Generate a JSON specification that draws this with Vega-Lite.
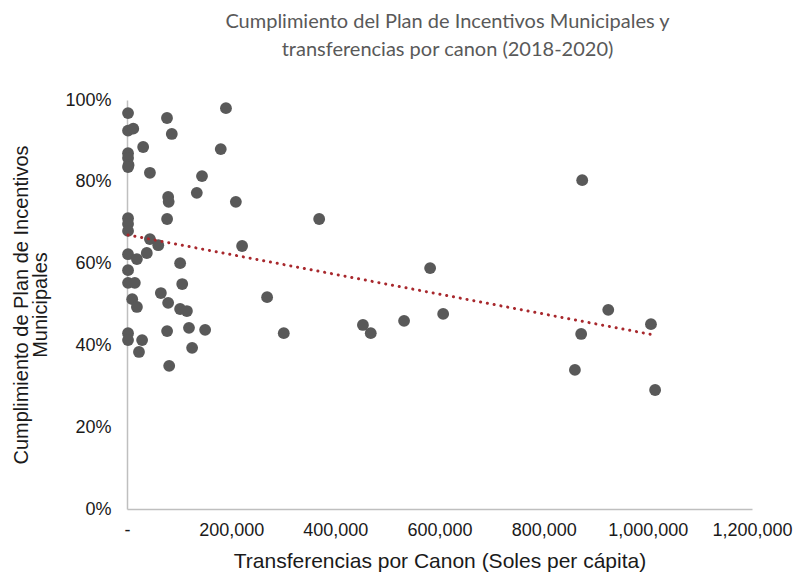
{
  "$schema": "https://vega.github.io/schema/vega-lite/v6.json",
  "width": 625,
  "height": 409,
  "autosize": "none",
  "padding": {"left": 127, "top": 100, "right": 45, "bottom": 72},
  "background": "white",
  "title": {
    "text": ["Cumplimiento del Plan de Incentivos Municipales y", "transferencias por canon (2018-2020)"],
    "font": "Lato",
    "fontSize": 20,
    "fontWeight": "normal",
    "color": "#595959",
    "lineHeight": 28,
    "anchor": "middle",
    "dx": 8,
    "offset": 31
  },
  "config": {
    "view": {"stroke": null},
    "axis": {
      "labelFont": "Liberation Sans",
      "titleFont": "Liberation Sans",
      "labelFontSize": 18,
      "titleFontSize": 20,
      "titleFontWeight": "normal",
      "labelColor": "#1a1a1a",
      "titleColor": "#1a1a1a",
      "grid": false,
      "ticks": false,
      "domainColor": "#bfbfbf",
      "domainWidth": 1.5
    }
  },
  "datasets": {
    "points": [
      {"canon": 2000, "pim": 0.968},
      {"canon": 2000, "pim": 0.925},
      {"canon": 12000, "pim": 0.93},
      {"canon": 2000, "pim": 0.870},
      {"canon": 2000, "pim": 0.858},
      {"canon": 3000, "pim": 0.841},
      {"canon": 2000, "pim": 0.836},
      {"canon": 2000, "pim": 0.711},
      {"canon": 2000, "pim": 0.697},
      {"canon": 2000, "pim": 0.680},
      {"canon": 2000, "pim": 0.623},
      {"canon": 2000, "pim": 0.584},
      {"canon": 2000, "pim": 0.553},
      {"canon": 2000, "pim": 0.430},
      {"canon": 2000, "pim": 0.413},
      {"canon": 76800, "pim": 0.956},
      {"canon": 190000, "pim": 0.98},
      {"canon": 86000, "pim": 0.917},
      {"canon": 31000, "pim": 0.885},
      {"canon": 180000, "pim": 0.88},
      {"canon": 44000, "pim": 0.822},
      {"canon": 144000, "pim": 0.814},
      {"canon": 134000, "pim": 0.773},
      {"canon": 79000, "pim": 0.763},
      {"canon": 80000, "pim": 0.751},
      {"canon": 209000, "pim": 0.751},
      {"canon": 77000, "pim": 0.709},
      {"canon": 44000, "pim": 0.66},
      {"canon": 60000, "pim": 0.645},
      {"canon": 221000, "pim": 0.643},
      {"canon": 19000, "pim": 0.611},
      {"canon": 38000, "pim": 0.626},
      {"canon": 102000, "pim": 0.601},
      {"canon": 15000, "pim": 0.553},
      {"canon": 106000, "pim": 0.550},
      {"canon": 65000, "pim": 0.528},
      {"canon": 10000, "pim": 0.513},
      {"canon": 19000, "pim": 0.494},
      {"canon": 79000, "pim": 0.504},
      {"canon": 102000, "pim": 0.489},
      {"canon": 115000, "pim": 0.484},
      {"canon": 29000, "pim": 0.413},
      {"canon": 77000, "pim": 0.435},
      {"canon": 119000, "pim": 0.443},
      {"canon": 150000, "pim": 0.438},
      {"canon": 23000, "pim": 0.384},
      {"canon": 125000, "pim": 0.394},
      {"canon": 81000, "pim": 0.35},
      {"canon": 369000, "pim": 0.709},
      {"canon": 582000, "pim": 0.589},
      {"canon": 269000, "pim": 0.518},
      {"canon": 301000, "pim": 0.430},
      {"canon": 453000, "pim": 0.450},
      {"canon": 468000, "pim": 0.430},
      {"canon": 532000, "pim": 0.460},
      {"canon": 607000, "pim": 0.477},
      {"canon": 874000, "pim": 0.804},
      {"canon": 924000, "pim": 0.487},
      {"canon": 1006000, "pim": 0.452},
      {"canon": 872000, "pim": 0.428},
      {"canon": 860000, "pim": 0.340},
      {"canon": 1014000, "pim": 0.291}
    ],
    "trend": [
      {"canon": 2000, "pim": 0.670},
      {"canon": 1010000, "pim": 0.426}
    ]
  },
  "layer": [
    {
      "data": {"name": "points"},
      "mark": {"type": "point", "filled": true, "shape": "circle", "size": 140, "color": "#595959", "opacity": 1},
      "encoding": {
        "x": {
          "field": "canon", "type": "quantitative",
          "scale": {"domain": [0, 1200000], "nice": false, "zero": true},
          "axis": {
            "values": [0, 200000, 400000, 600000, 800000, 1000000, 1200000],
            "labelExpr": "datum.value == 0 ? '-' : format(datum.value, ',')",
            "labelPadding": 12,
            "title": "Transferencias por Canon (Soles per cápita)",
            "titleFontSize": 21,
            "titlePadding": 11,
            "labelFlush": false
          }
        },
        "y": {
          "field": "pim", "type": "quantitative",
          "scale": {"domain": [0, 1], "nice": false},
          "axis": {
            "values": [0, 0.2, 0.4, 0.6, 0.8, 1],
            "format": ".0%",
            "labelPadding": 16,
            "title": ["Cumplimiento de Plan de Incentivos", "Municipales"],
            "titlePadding": 14,
            "titleLineHeight": 19,
            "labelFlush": false
          }
        }
      }
    },
    {
      "data": {"name": "trend"},
      "mark": {"type": "line", "color": "#a8282d", "strokeWidth": 3, "strokeDash": [0.1, 6.8], "strokeCap": "round"},
      "encoding": {
        "x": {"field": "canon", "type": "quantitative"},
        "y": {"field": "pim", "type": "quantitative"}
      }
    }
  ]
}
